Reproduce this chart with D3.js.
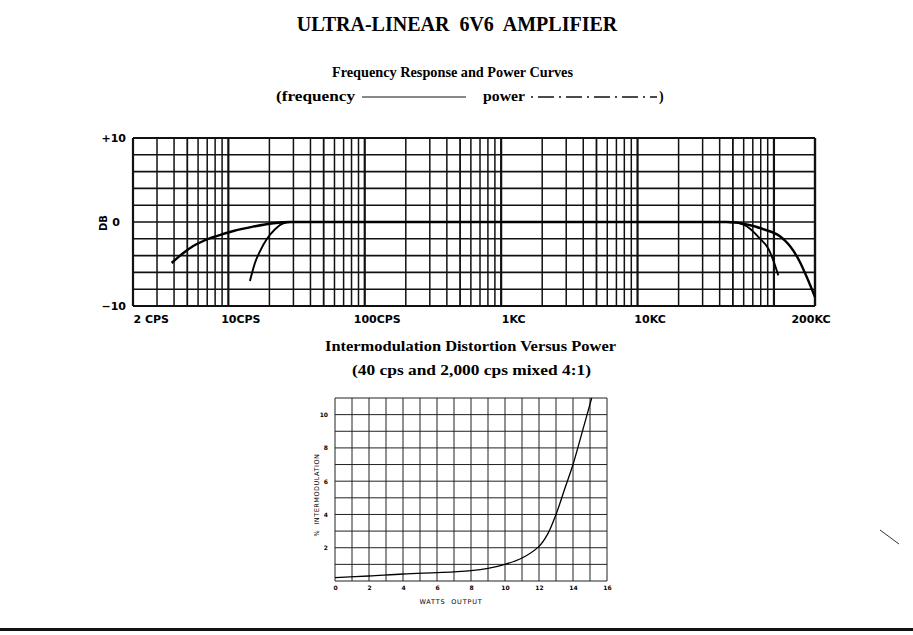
<!DOCTYPE html>
<html><head><meta charset="utf-8">
<script src="https://cdn.jsdelivr.net/npm/d3@7"></script>
<style>body{margin:0;background:#fff} svg{display:block}</style>
</head><body><svg id="c" width="913" height="635"></svg>
<script>
// ---- Top chart data ----
const freqTicks = [2, 10, 100, 1000, 10000, 200000];
const freqTickLabels = ["2 CPS", "10CPS", "100CPS", "1KC", "10KC", "200KC"];
const dbTicks = [10, 0, -10];
const dbTickLabels = ["+10", "0", "\u221210"];
// frequency response curve (cps, dB)
const respFreq = [3.84, 4.68, 5.53, 6.55, 8.21, 10.9, 15.2, 21.4, 28.3, 1000, 45000, 53300, 70600, 88500, 100000, 110700, 120000, 131000, 155000, 174000, 200000];
const respDb   = [-4.88, -3.69, -2.86, -2.26, -1.67, -1.07, -0.55, -0.15, 0, 0, 0, -0.08, -0.48, -0.99, -1.3, -1.7, -2.2, -2.85, -4.76, -6.55, -8.93];
// power curve (cps, dB)
const powFreq = [14.4, 15.7, 17.1, 19.1, 22.0, 25.3, 29.1, 1000, 45000, 53300, 66800, 79000, 91000, 98900, 107700];
const powDb   = [-7.02, -4.83, -3.45, -2.06, -0.87, -0.15, 0, 0, 0, -0.08, -0.8, -1.99, -3.17, -4.56, -6.35];

// ---- Bottom chart data ----
const watts = [0, 2, 4, 6, 7, 8, 9, 10, 11, 12, 12.5, 13, 13.5, 14, 14.5, 15.1];
const imPct = [0.2, 0.3, 0.42, 0.5, 0.55, 0.62, 0.76, 1.0, 1.38, 2.08, 2.8, 4.0, 5.5, 7.0, 8.8, 11];
const wattTicks = [0, 2, 4, 6, 8, 10, 12, 14, 16];
const imTicks = [2, 4, 6, 8, 10];

const svg = d3.select("#c");
const serif = "'Liberation Serif','DejaVu Serif',serif";
const sans = "'DejaVu Sans','Liberation Sans',sans-serif";

function stext(x, y, str, len, size) {
  return svg.append("text").attr("x", x).attr("y", y).attr("font-family", serif)
    .attr("font-weight", "bold").attr("font-size", size)
    .attr("textLength", len).attr("lengthAdjust", "spacingAndGlyphs").text(str);
}

// Titles
svg.append("text").attr("x", 457).attr("y", 31).attr("text-anchor", "middle")
  .style("white-space", "pre").attr("font-family", serif).attr("font-weight", "bold")
  .attr("font-size", 20).text("ULTRA-LINEAR  6V6  AMPLIFIER");
stext(332, 77, "Frequency Response and Power Curves", 241, 14);
stext(276, 101, "(frequency", 79, 14);
svg.append("line").attr("x1", 362).attr("x2", 466).attr("y1", 97).attr("y2", 97)
  .attr("stroke", "#111").attr("stroke-width", 1);
stext(483, 101, "power", 42, 14);
svg.append("line").attr("x1", 531).attr("x2", 657).attr("y1", 97).attr("y2", 97)
  .attr("stroke", "#111").attr("stroke-width", 1.3).attr("stroke-dasharray", "2,5,16,5");
svg.append("text").attr("x", 659).attr("y", 101).attr("font-family", serif)
  .attr("font-weight", "bold").attr("font-size", 14).text(")");

// ---- Top chart ----
const x = d3.scaleLog().domain([2, 200000]).range([133, 815]);
const y = d3.scaleLinear().domain([-10, 10]).range([306, 138]);
const g1 = svg.append("g");
const vLines = [];
for (let d = 1; d <= 100000; d *= 10) for (let m = 1; m <= 9; m++) {
  const v = m * d; if (v >= 2 && v <= 200000) vLines.push(v);
}
vLines.push(200000);
g1.selectAll(".vg").data(vLines).join("line")
  .attr("x1", d => x(d)).attr("x2", d => x(d)).attr("y1", y(10)).attr("y2", y(-10))
  .attr("stroke", "#111")
  .attr("stroke-width", d => (Math.log10(d) % 1 === 0 || d === 2 || d === 200000) ? 2.2 : (String(d)[0] === "5" ? 1.8 : 1.5));
g1.selectAll(".hg").data(d3.range(-10, 11, 2)).join("line")
  .attr("x1", x(2)).attr("x2", x(200000)).attr("y1", d => y(d)).attr("y2", d => y(d))
  .attr("stroke", "#111").attr("stroke-width", d => (Math.abs(d) === 10) ? 2.2 : 1.6);

const line1 = d3.line().x(d => x(d[0])).y(d => y(d[1])).curve(d3.curveMonotoneX);
g1.append("path").datum(respFreq.map((f, i) => [f, respDb[i]]))
  .attr("d", line1).attr("fill", "none").attr("stroke", "#000").attr("stroke-width", 2.4);
g1.append("path").datum(powFreq.map((f, i) => [f, powDb[i]]))
  .attr("d", line1).attr("fill", "none").attr("stroke", "#000").attr("stroke-width", 1.9);

const xa = d3.axisBottom(x).tickValues(freqTicks).tickSize(0)
  .tickFormat((d, i) => freqTickLabels[i]);
const gx = g1.append("g").attr("transform", "translate(0,306)").call(xa);
gx.select(".domain").remove();
gx.selectAll("text").attr("font-family", sans).attr("font-weight", "bold")
  .attr("font-size", 11).attr("fill", "#000").attr("dy", 14)
  .attr("text-anchor", (d, i) => i === 0 ? "start" : (i === freqTicks.length - 1 ? "end" : "middle"))
  .attr("dx", (d, i) => i === 0 ? 0 : (i === freqTicks.length - 1 ? 15 : 12));
const ya = d3.axisLeft(y).tickValues(dbTicks).tickSize(0).tickFormat((d, i) => dbTickLabels[i]);
const gy = g1.append("g").attr("transform", "translate(129,0)").call(ya);
gy.select(".domain").remove();
gy.selectAll("text").attr("font-family", sans).attr("font-weight", "bold")
  .attr("font-size", 11).attr("fill", "#000").attr("dx", (d) => d === 0 ? -6 : 0);
g1.append("text").attr("transform", "translate(107,223) rotate(-90)").attr("text-anchor", "middle")
  .attr("font-family", sans).attr("font-weight", "bold").attr("font-size", 10).text("DB");

// ---- Bottom titles ----
stext(325, 351, "Intermodulation Distortion Versus Power", 291, 14.5);
stext(352, 375, "(40 cps and 2,000 cps mixed 4:1)", 239, 14.5);

// ---- Bottom chart ----
const x2 = d3.scaleLinear().domain([0, 16]).range([335, 607]);
const y2 = d3.scaleLinear().domain([0, 11]).range([581, 398]);
const g2 = svg.append("g");
g2.selectAll(".v2").data(d3.range(0, 17)).join("line")
  .attr("x1", d => x2(d)).attr("x2", d => x2(d)).attr("y1", y2(0)).attr("y2", y2(11))
  .attr("stroke", "#222").attr("stroke-width", 1);
g2.selectAll(".h2").data(d3.range(0, 12)).join("line")
  .attr("x1", x2(0)).attr("x2", x2(16)).attr("y1", d => y2(d)).attr("y2", d => y2(d))
  .attr("stroke", "#222").attr("stroke-width", 1);
const line2 = d3.line().x(d => x2(d[0])).y(d => y2(d[1])).curve(d3.curveCatmullRom.alpha(0.5));
g2.append("path").datum(watts.map((w, i) => [w, imPct[i]]))
  .attr("d", line2).attr("fill", "none").attr("stroke", "#000").attr("stroke-width", 1.3);

const xa2 = d3.axisBottom(x2).tickValues(wattTicks).tickSize(0).tickFormat(d3.format("d"));
const gx2 = g2.append("g").attr("transform", "translate(0,581)").call(xa2);
gx2.select(".domain").remove();
gx2.selectAll("text").attr("font-family", sans).attr("font-weight", "bold")
  .attr("font-size", 6).attr("fill", "#000").attr("dy", 6);
const ya2 = d3.axisLeft(y2).tickValues(imTicks).tickSize(0).tickFormat(d3.format("d"));
const gy2 = g2.append("g").attr("transform", "translate(331,0)").call(ya2);
gy2.select(".domain").remove();
gy2.selectAll("text").attr("font-family", sans).attr("font-weight", "bold")
  .attr("font-size", 6).attr("fill", "#000");
g2.append("text").attr("x", 451).attr("y", 604).attr("text-anchor", "middle")
  .attr("font-family", sans).attr("font-size", 6.5).attr("letter-spacing", 0.8)
  .style("white-space", "pre").text("WATTS  OUTPUT");
g2.append("text").attr("transform", "translate(319,495) rotate(-90)").attr("text-anchor", "middle")
  .attr("font-family", sans).attr("font-size", 6.5).attr("letter-spacing", 0.5)
  .style("white-space", "pre").text("%  INTERMODULATION");

// page edge bar and mark
svg.append("rect").attr("x", 0).attr("y", 628).attr("width", 913).attr("height", 3).attr("fill", "#111");
svg.append("line").attr("x1", 880).attr("y1", 530).attr("x2", 899).attr("y2", 544)
  .attr("stroke", "#333").attr("stroke-width", 1);
</script></body></html>
